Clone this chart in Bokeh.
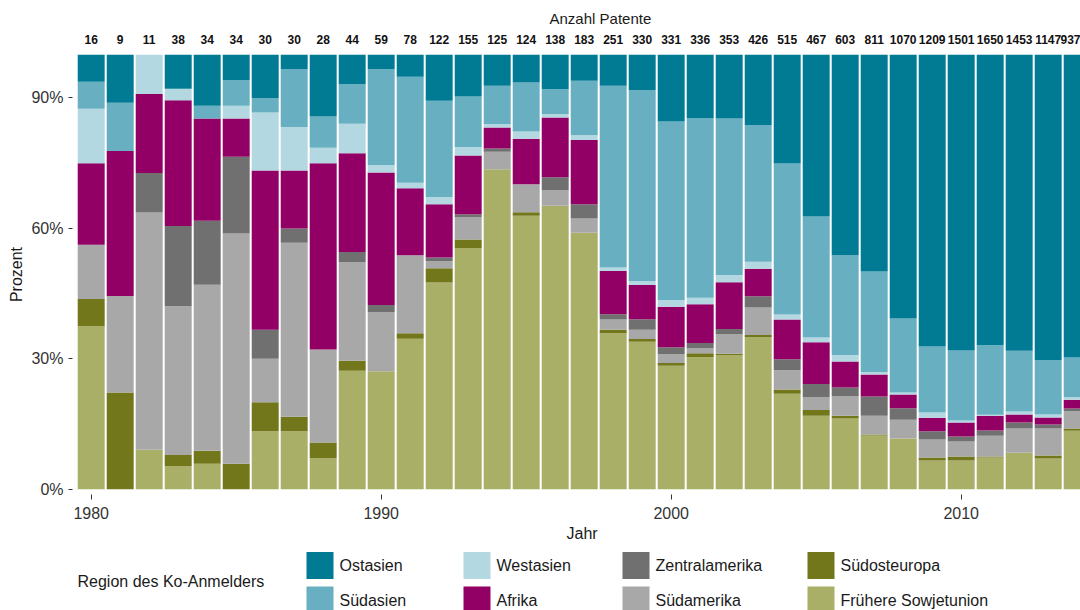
from bokeh.plotting import figure
from bokeh.models import ColumnDataSource, Range1d, FixedTicker, LinearAxis, Title, PrintfTickFormatter
from bokeh.layouts import column
from bokeh.embed import file_html
from bokeh.resources import INLINE
from bokeh.core.properties import value

# ---------------- data (counts) ----------------
years = list(range(1980, 2015))
totals = [16, 9, 11, 38, 34, 34, 30, 30, 28, 44, 59, 78, 122, 155, 125, 124, 138, 183,
          251, 330, 331, 336, 353, 426, 515, 467, 603, 811, 1070, 1209, 1501, 1650,
          1453, 1147, 937]

fruehere_sowjetunion = [6, 0, 1, 2, 2, 0, 4, 4, 2, 12, 16, 27, 58, 86, 92, 78, 90, 108, 90, 112,
                        94, 102, 109, 149, 113, 79, 98, 100, 125, 80, 99, 120, 122, 81, 126]
suedosteuropa = [1, 2, 0, 1, 1, 2, 2, 1, 1, 1, 0, 1, 4, 3, 0, 1, 0, 0, 2, 2,
                 2, 3, 1, 2, 5, 6, 4, 2, 0, 8, 14, 4, 0, 8, 5]
suedamerika = [2, 2, 6, 13, 13, 18, 3, 12, 6, 10, 8, 14, 2, 8, 5, 8, 5, 6, 6, 7,
               7, 4, 16, 27, 23, 14, 27, 35, 46, 50, 52, 79, 81, 71, 37]
zentralamerika = [0, 0, 1, 7, 5, 6, 2, 1, 0, 1, 1, 0, 1, 1, 1, 0, 4, 6, 3, 8,
                  5, 4, 4, 11, 13, 14, 12, 36, 28, 23, 17, 20, 20, 11, 6]
afrika = [3, 3, 2, 11, 8, 3, 11, 4, 12, 10, 18, 12, 15, 21, 6, 13, 19, 27, 25, 26,
          31, 30, 38, 27, 47, 45, 36, 41, 34, 38, 48, 56, 27, 18, 19]
westasien = [2, 0, 1, 1, 0, 1, 4, 3, 1, 3, 1, 1, 2, 3, 1, 2, 1, 2, 2, 3,
             5, 5, 6, 7, 6, 5, 9, 4, 5, 14, 7, 4, 10, 8, 5]
suedasien = [1, 1, 0, 0, 1, 2, 1, 4, 2, 4, 13, 19, 27, 18, 11, 14, 8, 23, 105, 145,
             136, 139, 127, 134, 179, 130, 139, 188, 182, 184, 242, 263, 203, 143, 86]
ostasien = [1, 1, 0, 3, 4, 2, 3, 1, 4, 3, 2, 4, 13, 15, 9, 8, 11, 11, 18, 27,
            51, 49, 52, 69, 129, 174, 278, 405, 650, 812, 1022, 1104, 990, 807, 653]

regions = ["Frühere Sowjetunion", "Südosteuropa", "Südamerika", "Zentralamerika",
           "Afrika", "Westasien", "Südasien", "Ostasien"]
series = [fruehere_sowjetunion, suedosteuropa, suedamerika, zentralamerika,
          afrika, westasien, suedasien, ostasien]
colors = ["#A9AF67", "#73771B", "#A8A8A8", "#707070",
          "#920066", "#B4D8E1", "#67AFC1", "#007B93"]

# legend order (column-wise, 4 columns x 2 rows)
legend_order = ["Ostasien", "Südasien", "Westasien", "Afrika",
                "Zentralamerika", "Südamerika", "Südosteuropa", "Frühere Sowjetunion"]

# ---------------- build source ----------------
data = {"year": years}
keys = []
for i, (name, vals) in enumerate(zip(regions, series)):
    k = f"s{i}"
    keys.append(k)
    data[k] = [100.0 * v / t for v, t in zip(vals, totals)]
source = ColumnDataSource(data)

FONT = "Liberation Sans"
W = 1080

p = figure(width=W, height=545,
           x_range=Range1d(1979.355, 2014.114), y_range=Range1d(-1.22, 100),
           output_backend="svg", toolbar_location=None,
           min_border_left=72, min_border_right=0, min_border_top=54, min_border_bottom=51)
p.outline_line_color = None
p.xgrid.visible = False
p.ygrid.visible = False
p.background_fill_color = "white"

p.vbar_stack(keys, x="year", width=0.93, color=colors, line_color=None, source=source)

# bottom axis
xa = p.xaxis[0]
xa.ticker = FixedTicker(ticks=[1980, 1990, 2000, 2010])
xa.axis_line_color = None
xa.major_tick_out = 5
xa.major_tick_in = 0
xa.minor_tick_line_color = None
xa.major_tick_line_color = "#333333"
xa.major_label_standoff = 7
xa.major_label_text_font = FONT
xa.major_label_text_font_size = "16px"
xa.major_label_text_color = "#333333"

# left axis
ya = p.yaxis[0]
ya.ticker = FixedTicker(ticks=[0, 30, 60, 90])
ya.formatter = PrintfTickFormatter(format="%d%%")
ya.axis_line_color = None
ya.major_tick_out = 4
ya.major_tick_in = 0
ya.minor_tick_line_color = None
ya.major_tick_line_color = "#333333"
ya.major_label_standoff = 5
ya.major_label_text_font = FONT
ya.major_label_text_font_size = "16px"
ya.major_label_text_color = "#333333"
ya.axis_label = "Prozent"
ya.axis_label_standoff = 3
ya.axis_label_text_font = FONT
ya.axis_label_text_font_size = "16px"
ya.axis_label_text_font_style = "normal"
ya.axis_label_text_color = "#1a1a1a"

# top axis: number of patents per year
top = LinearAxis(ticker=FixedTicker(ticks=years),
                 major_label_overrides={y: str(t) for y, t in zip(years, totals)})
top.axis_line_color = None
top.major_tick_out = 0
top.major_tick_in = 0
top.minor_tick_line_color = None
top.major_label_standoff = 11
top.major_label_text_font = FONT
top.major_label_text_font_size = "12px"
top.major_label_text_font_style = "bold"
top.major_label_text_color = "#111111"
p.add_layout(top, "above")

p.add_layout(Title(text="Anzahl Patente", align="left", offset=477,
                   text_font=FONT, text_font_size="15px", text_font_style="normal",
                   text_color="#1a1a1a", standoff=10), "above")
p.add_layout(Title(text="Jahr", align="left", offset=494,
                   text_font=FONT, text_font_size="16px", text_font_style="normal",
                   text_color="#1a1a1a", standoff=2), "below")

# ---------------- legend figure (x in page pixels, aligned to the main frame) ----------------
LH = 65
leg = figure(width=W, height=LH, x_range=Range1d(72, W), y_range=Range1d(LH, 0),
             output_backend="svg", toolbar_location=None,
             min_border_left=72, min_border_right=0, min_border_top=0, min_border_bottom=0,
             x_axis_type=None, y_axis_type=None)
leg.outline_line_color = None
leg.xgrid.visible = False
leg.ygrid.visible = False

col_left = [306, 463, 622, 807]
row_mid = [20, 54.5]
key_size = 27
text_gap = 33
color_of = dict(zip(regions, colors))
sq_x, sq_y, sq_c, tx, ty, tl = [], [], [], [], [], []
for i, name in enumerate(legend_order):
    c, r = divmod(i, 2)
    sq_x.append(col_left[c] + key_size / 2)
    sq_y.append(row_mid[r])
    sq_c.append(color_of[name])
    tx.append(col_left[c] + text_gap)
    ty.append(row_mid[r])
    tl.append(name)
leg.rect(x=sq_x, y=sq_y, width=key_size, height=key_size, color=sq_c, line_color=None)
leg.text(x=tx, y=ty, text=tl, text_baseline="middle", text_align="left",
         text_font=value(FONT), text_font_size="16px", text_color="#1a1a1a")
leg.text(x=[77], y=[36], text=["Region des Ko-Anmelders"], text_baseline="middle",
         text_align="left", text_font=value(FONT), text_font_size="16px", text_color="#1a1a1a")

layout = column(p, leg, spacing=0)
open("out.html", "w").write(file_html(layout, INLINE))
